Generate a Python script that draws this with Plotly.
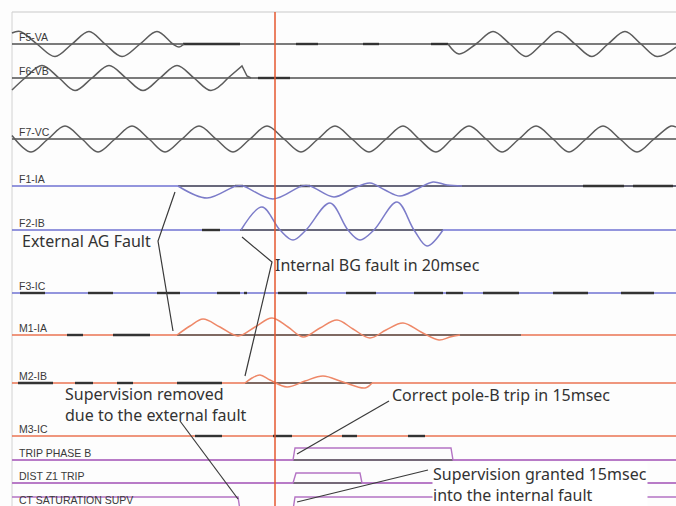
import plotly.graph_objects as go

# ---------------- data (x = sample index, y = chart row position) ----------------
row_names = ["F5-VA", "F6-VB", "F7-VC", "F1-IA", "F2-IB", "F3-IC",
             "M1-IA", "M2-IB", "M3-IC", "TRIP PHASE B", "DIST Z1 TRIP", "CT SATURATION SUPV"]
row_base = [44, 78, 139, 186, 230, 293, 335, 383, 436, 460, 483, 510]
row_label_off = [7, 7, 7, 7, 7, 7, 7, 7, 7, 7, 7, 10]
row_kind = ["v", "v", "v", "f", "f", "f", "m", "m", "m", "d", "d", "d"]

# analog key points (extrema / crossings) read from the record
va_t = [12, 20, 37, 55, 72, 89, 105, 122, 140, 157, 173, 179, 184]
va_v = [11, 12.5, 0, -12.5, 0, 12.5, 0, -12.5, 0, 12.5, 0, -3, 0]
va2_t = [448, 459, 476, 493, 510, 526, 542, 558, 575, 592, 608, 625, 641, 657, 676]
va2_v = [0, -10, 0, 12.5, 0, -12.5, 0, 12.5, 0, -12.5, 0, 12.5, 0, -12.5, -3]

vb_t = [12, 25, 42, 59, 75, 92, 109, 126, 143, 160, 177, 194, 211, 228]
vb_v = [-12, 0, 12.5, 0, -12.5, 0, 12.5, 0, -12.5, 0, 12.5, 0, -12.5, 0]
vb_spike_t = [228, 235, 242, 247, 251]
vb_spike_v = [0, 6, 12, 2, 0]

vc_t = [12, 31, 48, 65, 82, 98, 115, 132, 149, 165, 182, 199, 216, 233, 250, 267,
        284, 301, 318, 335, 352, 369, 386, 403, 419, 436, 452, 469, 486, 502, 519,
        536, 553, 569, 586, 603, 620, 637, 654, 671, 676]
vc_v = [3.5, -13, 0, 13, 0, -13, 0, 13, 0, -13, 0, 13, 0, -13, 0, 13,
        0, -13, 0, 13, 0, -13, 0, 13, 0, -13, 0, 13, 0, -13, 0,
        13, 0, -13, 0, 13, 0, -13, 0, 13, 12]

ia_t = [178, 207, 236, 243, 273, 302, 310, 334, 352, 370, 385, 400, 417, 433, 447, 462]
ia_v = [0, -12, 0, 0, -13, 0, 0, -11, -3, 3, -4, -10, -3, 4, 1, 0]

ib_t = [241, 262, 280, 293, 306, 330, 348, 360, 374, 397, 414, 427, 443]
ib_v = [0, 23, 0, -10, 0, 27, 0, -10, 0, 28, 0, -16, 0]

m1_t = [177, 190, 203, 220, 238, 255, 272, 288, 303, 320, 337, 353, 370, 386, 403, 421, 439, 450, 460]
m1_v = [0, 9, 16, 8, -1, 8, 17, 8, -2, 7, 15, 6, -3, 5, 12, 3, -5, -2, 0]

m2_t = [245, 252, 260, 270, 287, 305, 323, 343, 365, 372]
m2_v = [0, 5, 8, 3, -4, 2, 7, 1, -5, 0]

# sections where the trace baseline is drawn dark (row index, start, end)
dark_row = [3, 4, 6, 7, 9, 10]
dark_t0 = [178, 240, 177, 245, 293, 293]
dark_t1 = [676, 443, 521, 372, 453, 362]

# short dark digitiser dashes on baselines (row index, start, end)
dash_row = [0, 0, 0, 0, 1, 3, 3, 3, 3, 4,
            5, 5, 5, 5, 5, 5, 5, 5, 5, 5, 5, 5,
            6, 6, 7, 7, 7, 7, 8, 8, 8, 8]
dash_t0 = [183, 296, 363, 431, 258, 235, 300, 583, 633, 202,
           20, 88, 157, 217, 244, 278, 346, 414, 446, 483, 553, 621,
           67, 113, 18, 75, 117, 177, 195, 273, 342, 408]
dash_t1 = [240, 318, 379, 448, 290, 243, 310, 624, 673, 220,
           45, 113, 180, 240, 247, 307, 376, 443, 463, 519, 588, 654,
           83, 150, 53, 93, 133, 222, 222, 292, 357, 425]

# digital channels: state edges
trip_t = [12, 293, 295, 451, 453, 676]
trip_v = [0, 0, 12, 12, 0, 0]
z1_t = [12, 293, 296, 360, 362, 676]
z1_v = [0, 0, 10, 10, 0, 0]
ctsat_t = [12, 238, 240, None, 293, 295, 676]
ctsat_v = [13, 13, 0, None, 0, 13, 13]

cursor_t = 275

# annotation leader lines
lead_ext_t, lead_ext_y = [175, 158, 173], [192, 241, 331]
lead_int_t, lead_int_y = [242, 272, 245], [237, 262, 376]
lead_rem_t, lead_rem_y = [180, 238], [421, 499]
lead_pole_t, lead_pole_y = [389, 297], [401, 454]
lead_gr_t, lead_gr_y = [428, 297], [470, 502]

# ---------------- styling ----------------
X0, X1 = 12, 676
BASE_COL = {"v": "#4f4f4f", "f": "#6f72d2", "m": "#ea7352", "d": "#b473c4"}
WAVE_COL = {"v": "#5c5c5c", "f": "#7c7cc9", "m": "#ee8868"}
DARK = "#5a5a5a"
DASH = "#333333"

fig = go.Figure()


def add(xs, ys, color, width=1.3, shape="linear"):
    fig.add_trace(go.Scatter(x=xs, y=ys, mode="lines", hoverinfo="skip",
                             line=dict(color=color, width=width, shape=shape, smoothing=1.0),
                             showlegend=False, connectgaps=False))


# frame
add([X0, X1], [12, 12], "#c9c9c9", 1.2)
add([X0, X0], [12, 506], "#d2d2d2", 1.0)

# baselines
for i, (b, k) in enumerate(zip(row_base, row_kind)):
    if i == 11:
        continue
    add([X0, X1], [b, b], BASE_COL[k], 1.3)
for r, a, e in zip(dark_row, dark_t0, dark_t1):
    b = row_base[r]
    add([a, e], [b, b], DARK, 1.3)
for r, a, e in zip(dash_row, dash_t0, dash_t1):
    b = row_base[r]
    add([a, e], [b, b], DASH, 2.4)


def wave(ts, vs, r, k, shape="spline"):
    b = row_base[r]
    add(ts, [b - v for v in vs], WAVE_COL[k], 1.5, shape)


wave(va_t, va_v, 0, "v")
wave(va2_t, va2_v, 0, "v")
wave(vb_t, vb_v, 1, "v")
wave(vb_spike_t, vb_spike_v, 1, "v", "linear")
wave(vc_t, vc_v, 2, "v")
wave(ia_t, ia_v, 3, "f")
wave(ib_t, ib_v, 4, "f")
wave(m1_t, m1_v, 6, "m")
wave(m2_t, m2_v, 7, "m")

# digital signals
add(trip_t, [row_base[9] - v for v in trip_v], BASE_COL["d"], 1.4)
add(z1_t, [row_base[10] - v for v in z1_v], BASE_COL["d"], 1.4)
add(ctsat_t, [None if v is None else row_base[11] - v for v in ctsat_v], BASE_COL["d"], 1.4)

# cursor
add([cursor_t, cursor_t], [12, 506], "#e4572f", 1.5)

# leader lines
for xs, ys in [(lead_ext_t, lead_ext_y), (lead_int_t, lead_int_y), (lead_rem_t, lead_rem_y),
               (lead_pole_t, lead_pole_y), (lead_gr_t, lead_gr_y)]:
    add(xs, ys, "#3a3a3a", 1.2)

# channel labels
for name, b, off in zip(row_names, row_base, row_label_off):
    fig.add_annotation(x=17, y=b - off, text=name, showarrow=False, xanchor="left", yanchor="middle",
                       font=dict(family="Liberation Sans, Arial", size=10.5, color="#3a3a3a"))

# callout texts
TF = dict(family="Noto Sans, Open Sans", size=16, color="#333333")
callouts = [
    (21, 241, "External AG Fault", None),
    (274, 265, "Internal BG fault in 20msec", None),
    (64, 404, "Supervision removed<br>due to the external fault", None),
    (391, 395, "Correct pole-B trip in 15msec", None),
    (432, 484, "Supervision granted 15msec<br>into the internal fault", "white"),
]
for x, y, txt, bg in callouts:
    fig.add_annotation(x=x, y=y, text=txt, showarrow=False, xanchor="left", yanchor="middle",
                       align="left", font=TF, bgcolor=bg if bg else "rgba(0,0,0,0)", borderpad=0)

fig.update_layout(
    width=676, height=506, margin=dict(l=0, r=0, t=0, b=0),
    paper_bgcolor="white", plot_bgcolor="#fdfdfd",
    xaxis=dict(range=[0, 676], visible=False, fixedrange=True),
    yaxis=dict(range=[506, 0], visible=False, fixedrange=True),
)

fig.write_html("out.html", config={"displayModeBar": False, "staticPlot": True},
               post_script="document.body.style.margin='0';")
